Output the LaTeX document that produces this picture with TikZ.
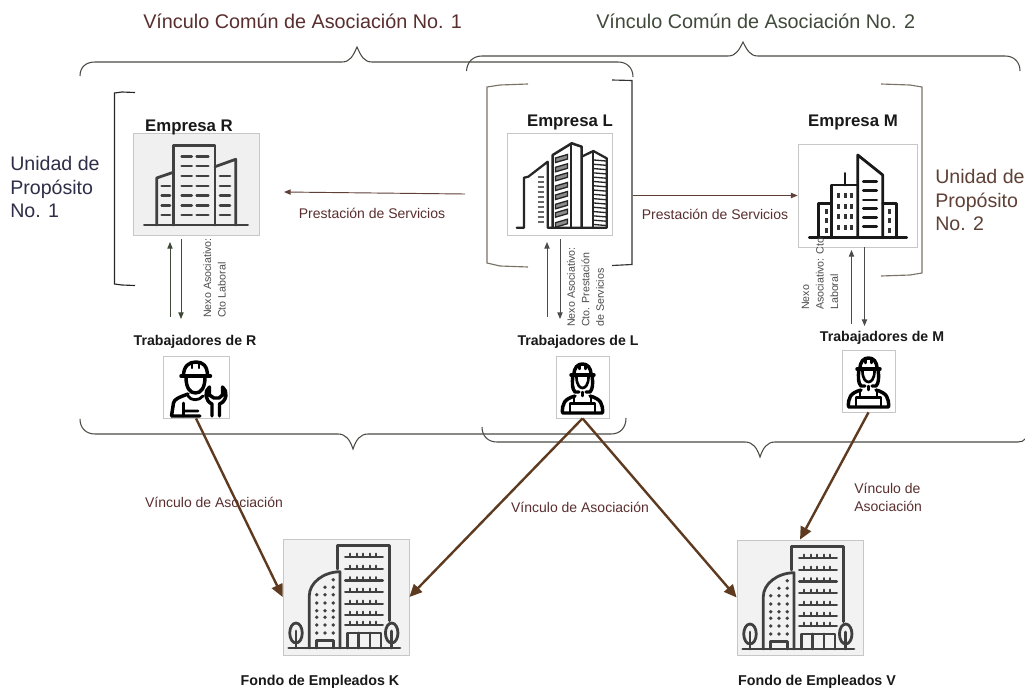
\documentclass[tikz,border=0pt]{standalone}
\usepackage{fontspec}
\setmainfont{Liberation Sans}
\usetikzlibrary{arrows.meta,calc}
\definecolor{maroon}{HTML}{5A2E2E}
\definecolor{olivedk}{HTML}{3F4A3A}
\definecolor{navy}{HTML}{2E2E48}
\definecolor{brownt}{HTML}{5F4036}
\definecolor{thickb}{HTML}{5E3B20}
\definecolor{bracegray}{HTML}{4A4A44}
\definecolor{bracketg}{HTML}{7A7468}
\tikzset{
  x=0.75pt,y=-0.75pt,
  title/.style={anchor=west,inner sep=0pt,font=\fontsize{14.85}{17}\selectfont},
  unit/.style={anchor=west,inner sep=0pt,align=left,font=\fontsize{14.7}{17.7}\selectfont},
  small/.style={inner sep=0pt,align=left,text=maroon,font=\fontsize{10.5}{13}\selectfont},
  vert/.style={rotate=90,anchor=west,inner sep=0pt,align=left,text=black!70,font=\fontsize{8}{10.9}\selectfont},
  head/.style={inner sep=0pt,text=black!90,font=\bfseries\fontsize{12.6}{15}\selectfont},
  worker/.style={inner sep=0pt,text=black!90,font=\bfseries\fontsize{10.6}{13}\selectfont},
  fund/.style={inner sep=0pt,text=black!90,font=\bfseries\fontsize{10.7}{13}\selectfont},
  imgbox/.style={draw=black!22,fill=#1,inner sep=0pt,line width=0.6pt},
  bracex/.style={draw=bracegray,line width=0.8pt},
  bracketx/.style={draw=#1,line width=0.85pt},
  thin arrow/.style={draw=#1,line width=0.7pt,-{Triangle[length=5pt,width=4pt]}},
  assoc/.style={draw=thickb,line width=1.8pt,-{Triangle[length=9.5pt,width=8.5pt]}},
  ic/.style={draw=#1,line width=2.1pt,line cap=round,line join=round},
  ic/.default=black!75,
  wk/.style={draw=black,line width=2.6pt,line cap=round,line join=round}
}
\newcommand{\fundicon}{%
  \draw[ic] (5.7,109)--(117,109);
  \draw[ic] (54.7,30)--(54.7,6.7)--(106.3,6.7)--(106.3,81.7);
  \draw[ic] (26.3,109)--(26.3,56.7) .. controls (26.3,44) and (40,33) .. (57,32.7)--(57,109);
  \foreach \yy in {18,30,41.7,53,65,76,86}{
    \draw[ic] (62.3,\yy)--(99.7,\yy);
    \foreach \xx in {67,73.5,80,86.5,93}{\draw[ic,line width=1.5pt] (\xx,\yy-3.5)--(\xx,\yy);}
  }
  \draw[ic] (64.7,109)--(64.7,94)--(98,94)--(98,109);
  \draw[ic] (75.7,94)--(75.7,109) (87,94)--(87,109);
  \draw[ic] (33.7,109)--(33.7,101.7)--(50.3,101.7)--(50.3,109);
  \foreach \xx in {33.7,42,50.3}{\foreach \yy in {55.7,64,71.7,78.3,86,94}{\fill[black!75] (\xx,\yy) circle (1.4pt);}}
  \fill[black!75] (50.3,40.7) circle (1.4pt) (42,48.3) circle (1.4pt) (50.3,48.3) circle (1.4pt);
  \foreach \xx in {13,108.7}{
    \draw[ic] (\xx,94) ellipse (4.7pt and 7.5pt);
    \draw[ic] (\xx,92)--(\xx,109);
  }
}
\newcommand{\femaleicon}{%
  % drawn for the box whose centre is x=582.5
  \draw[wk] (571,375)--(594,375);
  \draw[wk] (574,375) .. controls (574,367) and (578,364) .. (582.5,364) .. controls (587,364) and (591,367) .. (591,375);
  \draw[wk,line width=1.8pt] (579.5,364)--(579.5,369) (585.5,364)--(585.5,369);
  \draw[wk] (573,375) .. controls (572,383) and (572,389) .. (575,392)--(579,392) (592,375) .. controls (593,383) and (593,389) .. (590,392)--(586,392);
  \draw[wk,line width=2pt] (576.5,377) .. controls (576.5,385) and (580,388) .. (582.5,388) .. controls (585,388) and (588.5,385) .. (588.5,377);
  \draw[wk] (562.5,413)--(602.5,413) (562.5,413) .. controls (562,404) and (564,399) .. (575,396) (602.5,413) .. controls (603,404) and (601,399) .. (590,396);
  \draw[wk,line width=1.8pt] (582.5,392)--(582.5,396);
  \draw[wk,line width=2.2pt] (570,413)--(570,403.5)--(595,403.5)--(595,413);
  \draw[wk,line width=1.8pt] (574,403)--(574,398) (591,403)--(591,398);
}
\begin{document}
\begin{tikzpicture}
\useasboundingbox[fill=white] (0,0) rectangle (1025,689);

% image boxes
\node[imgbox=black!6,minimum width=95pt,minimum height=76.5pt] (er) at (196.5,184) {};
\node[imgbox=white,minimum width=78.75pt,minimum height=76.5pt] (el) at (559.5,184) {};
\node[imgbox=white,minimum width=89.25pt,minimum height=77.25pt] (em) at (857.5,195.5) {};
\node[imgbox=white,minimum width=49.5pt,minimum height=46.5pt] (wr) at (196,387) {};
\node[imgbox=white,minimum width=39.75pt,minimum height=46.5pt] (wl) at (582.5,387) {};
\node[imgbox=white,minimum width=39.75pt,minimum height=46.5pt] (wm) at (868.5,381) {};
\node[imgbox=black!5,minimum width=94.5pt,minimum height=87pt] (fk) at (346,597) {};
\node[imgbox=black!5,minimum width=94.5pt,minimum height=86.25pt] (fv) at (800,597.5) {};

% Empresa R icon
\begin{scope}
  \draw[ic] (144.3,225)--(247.7,225);
  \draw[ic] (173.3,225)--(173.3,145.7)--(215,145.7)--(215,225);
  \draw[ic] (156.7,225)--(156.7,178)--(173.3,172.3);
  \draw[ic] (215,166.7)--(235.7,159.3)--(235.7,225);
  \foreach \yy in {156.7,166,176,186,195.7,205.7,215}{\draw[ic] (181.7,\yy)--(191.7,\yy) (196.7,\yy)--(208.3,\yy);}
  \foreach \yy in {186,195.7,205.7,215}{\draw[ic] (161.7,\yy)--(170,\yy);}
  \foreach \yy in {176,186,195.7,205.7,215}{\draw[ic] (220,\yy)--(230,\yy);}
\end{scope}

% Empresa L icon
\begin{scope}
  \draw[ic=black!85,line width=1.7pt] (516.7,227.7)--(524,227.7)--(524,177.7)--(528.3,176.7)--(547.7,161.7)--(547.7,227.7)--(606.7,227.7)--(606.7,158.3)--(593.3,151)--(581.7,156.7);
  \draw[ic=black!85,line width=1.9pt] (552.7,227.7)--(552.7,155)--(571.7,143.3)--(581.7,146.7)--(581.7,227.7);
  \draw[ic=black!85,line width=1.5pt] (570.7,144)--(570.7,227.7) (593.3,151)--(593.3,227.7);
  \foreach \yy in {158,167.3,176.3,186,195,204.3,212.7,222.7}{
    \draw[draw=black!85,fill=black!45,line width=1pt] (555.5,\yy)--(567.5,\yy-3.5)--(567.5,\yy+1)--(555.5,\yy+4.5)--cycle;
  }
  \foreach \yy in {160,164.3,168.6,172.9,177.2,181.5,185.8,190.1,194.4,198.7,203,207.3,211.6,215.9,220.2,224.5}{
    \draw[black!85,line width=1pt] (594,\yy)--(606,\yy+1);
  }
  \foreach \yy in {176.7,181.7,186.7,191.7,196.7,201.7,206.7,211.7,216.7,221.7}{
    \draw[black!60,line width=1.3pt] (537.7,\yy)--(544.3,\yy);
  }
\end{scope}

% Empresa M icon
\begin{scope}
  \draw[ic=black!90] (809.3,237.7)--(906.7,237.7);
  \draw[ic=black!90] (857.7,237.7)--(857.7,155)--(882.7,175)--(882.7,237.7);
  \draw[ic=black!90] (831.7,237.7)--(831.7,185)--(857.7,185);
  \draw[ic=black!90] (845,173.3)--(845,185);
  \draw[ic=black!90] (818.3,237.7)--(818.3,203.3)--(831.7,203.3);
  \draw[ic=black!90] (882.7,203.3)--(896.7,203.3)--(896.7,237.7);
  \foreach \xx in {838.3,845,851.7}{\foreach \yy in {195,206,216.7,227.7}{\fill[black!80] (\xx-1.5,\yy-2.5) rectangle (\xx+1.5,\yy+2.5);}}
  \foreach \yy in {181.7,190.7,200,208.7,217.7,226.3}{\draw[ic=black!90] (863.3,\yy)--(876.7,\yy);}
  \foreach \yy in {211,220,230}{\fill[black!80] (826-1.5,\yy-2.5) rectangle (826+1.5,\yy+2.5);\fill[black!80] (889.3-1.5,\yy-2.5) rectangle (889.3+1.5,\yy+2.5);}
\end{scope}

% fund icons
\begin{scope}[shift={(283,539)}]\fundicon\end{scope}
\begin{scope}[shift={(737,540)}]\fundicon\end{scope}

% male worker icon
\begin{scope}
  \draw[wk] (181,376)--(210.5,376);
  \draw[wk] (183.5,376) .. controls (183.5,366) and (189,362) .. (196,362) .. controls (203,362) and (207.5,366) .. (207.5,376);
  \draw[wk,line width=1.8pt] (192,362)--(192,368) (199,362)--(199,368);
  \draw[wk] (186,377) .. controls (186,388) and (190,393) .. (195.5,393) .. controls (201,393) and (205,388) .. (205,377);
  \draw[wk] (171.5,416)--(200,416) (171.5,416)--(173.5,403) .. controls (174,399) and (180,397) .. (188,394);
  \draw[wk,line width=2.1pt] (183.5,403)--(183.5,416) (184,411)--(198,411) (188,396) .. controls (191,401) and (199,401) .. (203,396);
  \draw[wk] (212,416)--(212,404) .. controls (205,401) and (204,391) .. (209.5,387)--(209.5,395)--(214,398)--(219,398)--(222.5,395)--(222.5,387) .. controls (228,391) and (227,401) .. (219.5,404)--(219.5,416);
\end{scope}

% female worker icons
\femaleicon
\begin{scope}[shift={(286,-6)}]\femaleicon\end{scope}

% braces
\draw[bracex] (80,76) .. controls (80,67) and (86,62) .. (95,62) -- (342,62) .. controls (350,62) and (353,56) .. (357,47) .. controls (361,56) and (364,62) .. (372,62) -- (618,62) .. controls (627,62) and (633,68) .. (633,77);
\draw[bracex] (466.5,71) .. controls (467,62) and (473,56) .. (482,56) -- (728,56) .. controls (736,56) and (739,50) .. (743,42) .. controls (747,50) and (750,56) .. (758,56) -- (1005,56) .. controls (1014,56) and (1020,62) .. (1020,71);
\draw[bracex] (80,419) .. controls (80,428) and (86,434) .. (95,434) -- (338,434) .. controls (346,434) and (350,440) .. (353,449) .. controls (356,440) and (360,434) .. (368,434) -- (611,434) .. controls (620,434) and (626,428) .. (626,418);
\draw[bracex] (482,427) .. controls (482,436) and (488,442) .. (497,442) -- (745,442) .. controls (753,442) and (757,448) .. (760,457) .. controls (763,448) and (767,442) .. (775,442) -- (1018,442) .. controls (1021,442) and (1024,441) .. (1025,439);

% brackets
\draw[bracketx=black!85] (135,92.5)--(122,92)--(114.5,93)--(114.5,284)--(122,285)--(135,285.5);
\draw[bracketx=bracketg] (528,84)--(500,85)--(487,87)--(487,263)--(500,266)--(528,267);
\draw[bracketx=black!80] (612,80)--(632,80.5)--(632,264.5)--(612,265.5);
\draw[bracketx=bracketg] (881,84)--(910,85)--(922,87)--(922,273)--(910,275)--(881,276);

% coordinates of free ends
\coordinate (psl) at (465,194);
\coordinate (psr) at (284,192);
\coordinate (pml) at (632.5,195.5);
\coordinate (ru1) at (170,317);\coordinate (ru2) at (170,242);
\coordinate (rd1) at (181,239);\coordinate (rd2) at (181,319);
\coordinate (lu1) at (547,317);\coordinate (lu2) at (547,242);
\coordinate (ld1) at (560,239);\coordinate (ld2) at (560,319);
\coordinate (mu1) at (851.5,324);\coordinate (mu2) at (851.5,250);
\coordinate (md1) at (864.5,247);\coordinate (md2) at (864.5,326);

\draw[thin arrow=brownt] (psl)--(psr);
\draw[thin arrow=brownt] (pml)--(em.west);
\draw[thin arrow=olivedk] (ru1)--(ru2);
\draw[thin arrow=olivedk] (rd1)--(rd2);
\draw[thin arrow=black!70] (lu1)--(lu2);
\draw[thin arrow=black!70] (ld1)--(ld2);
\draw[thin arrow=black!70] (mu1)--(mu2);
\draw[thin arrow=black!70] (md1)--(md2);

% association arrows
\draw[assoc] (wr.south)--(fk.west);
\draw[assoc] (wl.south)--(fk.east);
\draw[assoc] (wl.south)--(fv.west);
\draw[assoc] (wm.south)--(fv.north);

% texts
\node[title,text=maroon] (t1) at (143,21) {Vínculo Común de Asociación No. 1};
\node[title,text=olivedk] (t2) at (596,21) {Vínculo Común de Asociación No. 2};
\node[unit,text=navy] (u1) at (10,187) {Unidad de\\Propósito\\No. 1};
\node[unit,text=brownt] (u2) at (935,200) {Unidad de\\Propósito\\No. 2};
\node[head] (hr) at (189,127) {Empresa R};
\node[head] (hl) at (570,122) {Empresa L};
\node[head] (hm) at (853,122) {Empresa M};
\node[small] (p1) at (372,213) {Prestación de Servicios};
\node[small] (p2) at (715,214) {Prestación de Servicios};
\node[vert] (n1) at (214.5,318) {Nexo Asociativo:\\Cto Laboral};
\node[vert] (n2) at (585.5,327) {Nexo Asociativo:\\Cto. Prestación\\de Servicios};
\node[vert] (n3) at (820,310) {Nexo\\Asociativo: Cto\\Laboral};
\node[worker] (tr) at (195,342) {Trabajadores de R};
\node[worker] (tl) at (578,342) {Trabajadores de L};
\node[worker] (tm) at (882,338) {Trabajadores de M};
\node[small] (v1) at (214,502) {Vínculo de Asociación};
\node[small] (v2) at (580,507) {Vínculo de Asociación};
\node[small,anchor=west] (v3) at (854,497.5) {Vínculo de\\Asociación};
\node[fund] (fnk) at (320,682) {Fondo de Empleados K};
\node[fund] (fnv) at (817,682) {Fondo de Empleados V};
\end{tikzpicture}
\end{document}
